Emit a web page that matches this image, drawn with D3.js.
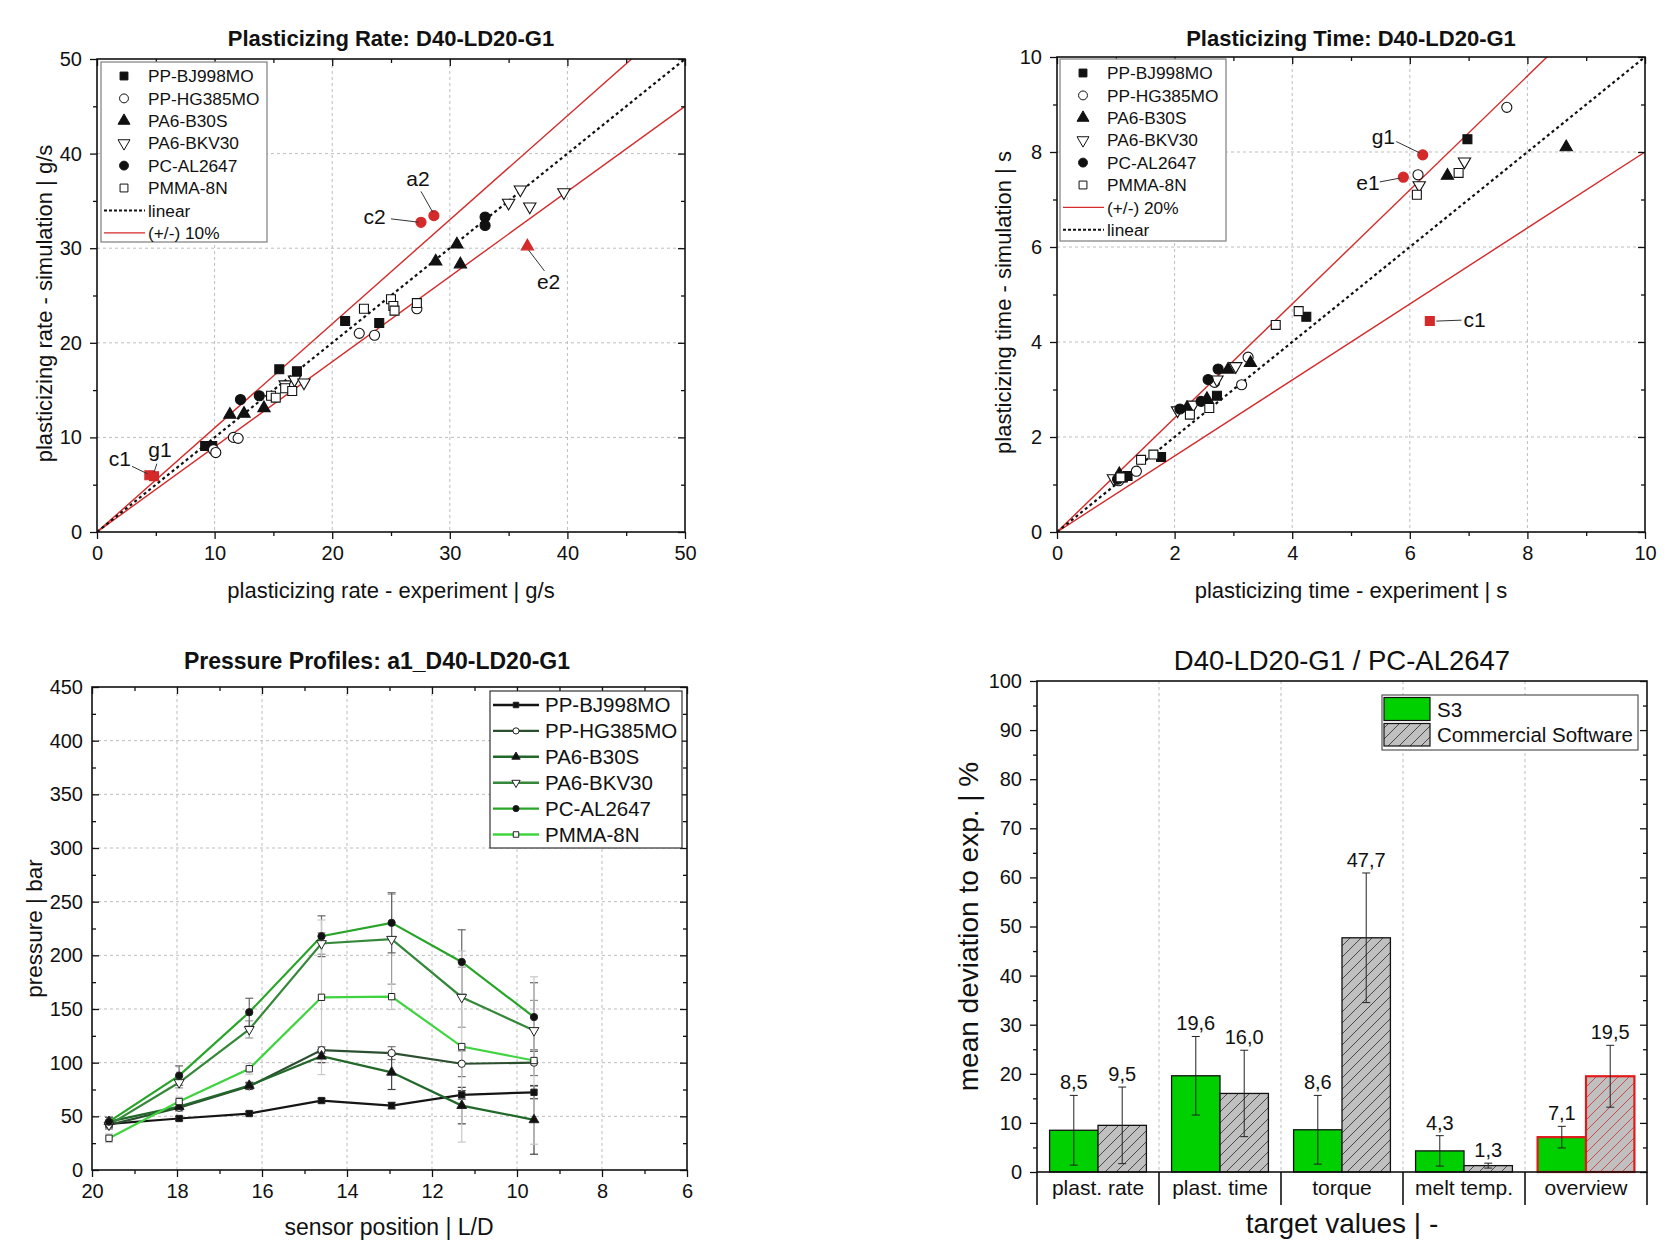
<!DOCTYPE html>
<html>
<head>
<meta charset="utf-8">
<script src="https://cdn.jsdelivr.net/npm/d3@7"></script>
<style>
  body { margin: 0; background: #fff; }
  svg text { font-family: 'Liberation Sans', Arial, sans-serif; fill: #111; }
  .tick text { font-size: 20px; }
  .grid line { stroke: #bdbdbd; stroke-width: 1; stroke-dasharray: 3,3; }
</style>
</head>
<body>
<svg id="fig" width="1679" height="1241"></svg>
<script>
// ---------- data ----------
const materials = ["PP-BJ998MO", "PP-HG385MO", "PA6-B30S", "PA6-BKV30", "PC-AL2647", "PMMA-8N"];

// plasticizing rate [experiment, simulation] in g/s
const rateBJ998 = [[9.2, 9.1], [9.8, 9.1], [15.5, 17.2], [17.0, 17.0], [21.1, 22.3], [24.0, 22.1]];
const rateHG385 = [[9.9, 8.7], [10.1, 8.4], [11.6, 10.0], [12.0, 9.9], [22.3, 21.0], [23.6, 20.8], [27.2, 23.6]];
const rateB30S = [[11.3, 12.4], [12.5, 12.5], [14.2, 13.1], [28.8, 28.6], [30.6, 30.4], [30.9, 28.3]];
const rateBKV30 = [[16.0, 15.6], [16.8, 16.1], [17.6, 15.8], [35.0, 34.8], [36.0, 36.2], [36.8, 34.4], [39.7, 35.9]];
const rateAL2647 = [[12.2, 14.0], [13.8, 14.4], [33.0, 33.3], [33.0, 32.4]];
const rate8N = [[14.8, 14.4], [15.2, 14.2], [16.0, 15.2], [16.6, 14.9], [22.7, 23.6], [25.0, 24.6], [25.2, 23.9], [25.3, 23.4], [27.2, 24.2]];
const rateOutCircle = [[28.65, 33.44], [27.55, 32.74]];
const rateOutTri = [[36.6, 30.2]];
const rateOutSquare = [[4.45, 6.0], [4.85, 5.9]];
const rateNotes = [
  { t: "a2", p: [27.3, 37.3], a: [27.55, 36.0], b: [28.55, 33.8] },
  { t: "c2", p: [23.6, 33.3], a: [25.0, 33.1], b: [27.35, 32.75] },
  { t: "e2", p: [38.4, 26.5], a: [36.7, 29.8], b: [38.05, 27.6] },
  { t: "c1", p: [1.95, 7.8], a: [2.98, 6.94], b: [4.28, 6.16] },
  { t: "g1", p: [5.35, 8.7], a: [5.09, 7.22], b: [4.86, 6.34] }
];

// plasticizing time [experiment, simulation] in s
const timeBJ998 = [[1.12, 1.15], [1.2, 1.18], [1.77, 1.58], [2.72, 2.87], [4.24, 4.53], [6.98, 8.27]];
const timeHG385 = [[1.05, 1.08], [1.35, 1.28], [2.68, 3.15], [3.14, 3.10], [3.25, 3.68], [6.14, 7.52], [7.65, 8.94]];
const timeB30S = [[1.06, 1.22], [2.21, 2.61], [2.55, 2.80], [2.91, 3.42], [3.29, 3.56], [6.64, 7.5], [8.66, 8.1]];
const timeBKV30 = [[0.96, 1.13], [2.05, 2.56], [2.32, 2.68], [2.72, 3.21], [3.04, 3.49], [6.16, 7.3], [6.93, 7.8]];
const timeAL2647 = [[1.03, 1.11], [2.09, 2.59], [2.45, 2.75], [2.57, 3.21], [2.74, 3.43]];
const time8N = [[1.08, 1.15], [1.43, 1.52], [1.64, 1.63], [2.26, 2.47], [2.59, 2.61], [3.72, 4.36], [4.11, 4.65], [6.12, 7.1], [6.83, 7.56]];
const timeOutCircle = [[6.22, 7.94], [5.89, 7.47]];
const timeOutSquare = [[6.34, 4.44]];
const timeNotes = [
  { t: "g1", p: [5.55, 8.32], a: [5.77, 8.22], b: [6.17, 7.98] },
  { t: "e1", p: [5.29, 7.35], a: [5.49, 7.37], b: [5.83, 7.45] },
  { t: "c1", p: [7.1, 4.47], a: [6.45, 4.44], b: [6.88, 4.46] }
];

// pressure profiles (bar) along sensor position (L/D)
const sensorPos = [19.6, 17.95, 16.3, 14.6, 12.95, 11.3, 9.6];
const presBJ998 = [43, 48, 52.6, 64.7, 60, 70, 72.4];
const presHG385 = [42, 58, 78, 111.7, 108.9, 99, 100];
const presB30S = [45, 59, 78.7, 106, 91, 60, 46.7];
const presBKV30 = [42, 81.5, 131, 211, 215, 161, 130];
const presAL2647 = [45, 88, 147, 217.8, 230.3, 193.8, 142.5];
const pres8N = [29.6, 63.8, 94.3, 160.9, 161.5, 115, 102];
const errBJ998 = [3, 2, 2, 2, 3, 4, 6];
const errHG385 = [3, 3, 3, 3, 6, 12, 12];
const errB30S = [4, 3, 3, 6, 16, 17, 32];
const errBKV30 = [4, 5, 8, 10, 42, 28, 28];
const errAL2647 = [4, 9, 13, 19, 28, 30, 32];
const err8N = [4, 4, 5, 72, 12, 89, 78];

// mean deviation to experiment (%)
const targets = ["plast. rate", "plast. time", "torque", "melt temp.", "overview"];
const devS3 = [8.5, 19.6, 8.6, 4.3, 7.1];
const devS3Err = [7.1, 8.0, 7.0, 3.1, 2.2];
const devComm = [9.5, 16.0, 47.7, 1.3, 19.5];
const devCommErr = [7.8, 8.8, 13.2, 0.5, 6.3];

// ---------- drawing ----------
const svg = d3.select("#fig");
svg.append("rect").attr("width", 1679).attr("height", 1241).attr("fill", "#fff");
const defs = svg.append("defs");
const RED = "#d42a2a";

function symPath(kind, size) {
  if (kind === "sq") return d3.symbol(d3.symbolSquare, size)();
  if (kind === "ci") return d3.symbol(d3.symbolCircle, size)();
  return d3.symbol(d3.symbolTriangle, size)();
}
function drawSym(g, kind, cx, cy, size, fill, stroke, sw) {
  g.append("path")
    .attr("d", symPath(kind, size))
    .attr("transform", `translate(${cx},${cy})` + (kind === "td" ? " rotate(180)" : ""))
    .attr("fill", fill).attr("stroke", stroke).attr("stroke-width", sw);
}

function frameAxes(g, x, y, o) {
  const cleanup = s => s.select(".domain").remove();
  // bottom
  g.append("g").attr("transform", `translate(0,${o.bottom})`)
    .call(d3.axisBottom(x).tickValues(o.xMajor).tickSize(o.bIn ? -7 : 7).tickPadding(o.bIn ? 14 : 7).tickFormat(d3.format("d"))).call(cleanup);
  g.append("g").attr("transform", `translate(0,${o.bottom})`)
    .call(d3.axisBottom(x).tickValues(o.xMinor).tickSize(o.bIn ? -4 : 4).tickFormat("")).call(cleanup);
  // left
  g.append("g").attr("transform", `translate(${o.left},0)`)
    .call(d3.axisLeft(y).tickValues(o.yMajor).tickSize(o.lIn ? -7 : 7).tickPadding(o.lIn ? 9 : 8).tickFormat(d3.format("d"))).call(cleanup);
  g.append("g").attr("transform", `translate(${o.left},0)`)
    .call(d3.axisLeft(y).tickValues(o.yMinor).tickSize(o.lIn ? -4 : 4).tickFormat("")).call(cleanup);
  // mirrored top and right, inward
  [[o.xMajor, 7], [o.xMinor, 4]].forEach(([v, s]) => {
    g.append("g").attr("transform", `translate(0,${o.top})`)
      .call(d3.axisTop(x).tickValues(v).tickSize(-s).tickFormat("")).call(cleanup);
  });
  [[o.yMajor, 7], [o.yMinor, 4]].forEach(([v, s]) => {
    g.append("g").attr("transform", `translate(${o.right},0)`)
      .call(d3.axisRight(y).tickValues(v).tickSize(-s).tickFormat("")).call(cleanup);
  });
  g.selectAll(".tick line").attr("stroke", "#111").attr("stroke-width", 1.3);
  g.append("rect").attr("x", o.left).attr("y", o.top)
    .attr("width", o.right - o.left).attr("height", o.bottom - o.top)
    .attr("fill", "none").attr("stroke", "#111").attr("stroke-width", 1.6);
}

function gridLines(g, x, y, o, xs, ys) {
  const gg = g.append("g").attr("class", "grid");
  gg.selectAll(".gx").data(xs).join("line").attr("class", "gx")
    .attr("x1", d => x(d)).attr("x2", d => x(d)).attr("y1", o.top).attr("y2", o.bottom);
  gg.selectAll(".gy").data(ys).join("line").attr("class", "gy")
    .attr("y1", d => y(d)).attr("y2", d => y(d)).attr("x1", o.left).attr("x2", o.right);
}

function scatterPanel(o) {
  const g = svg.append("g");
  const x = d3.scaleLinear().domain(o.xDom).range([o.left, o.right]);
  const y = d3.scaleLinear().domain(o.yDom).range([o.bottom, o.top]);
  gridLines(g, x, y, o, o.xGrid, o.yGrid);

  defs.append("clipPath").attr("id", o.id + "clip").append("rect")
    .attr("x", o.left).attr("y", o.top).attr("width", o.right - o.left).attr("height", o.bottom - o.top);
  const lg = g.append("g").attr("clip-path", `url(#${o.id}clip)`);
  const xm = o.xDom[1];
  o.factors.forEach(f => {
    lg.append("line").attr("x1", x(0)).attr("y1", y(0)).attr("x2", x(xm)).attr("y2", y(f * xm))
      .attr("stroke", RED).attr("stroke-width", 1.4);
  });
  lg.append("line").attr("x1", x(0)).attr("y1", y(0)).attr("x2", x(xm)).attr("y2", y(xm))
    .attr("stroke", "#111").attr("stroke-width", 2.2).attr("stroke-dasharray", "3,3");

  const mg = g.append("g");
  o.series.forEach(s => {
    s.data.forEach(d => drawSym(mg, s.kind, x(d[0]), y(d[1]), s.size, s.fill, s.stroke, 1.1));
  });

  // annotations
  o.notes.forEach(n => {
    g.append("line").attr("x1", x(n.a[0])).attr("y1", y(n.a[1])).attr("x2", x(n.b[0])).attr("y2", y(n.b[1]))
      .attr("stroke", "#333").attr("stroke-width", 1);
    g.append("text").attr("x", x(n.p[0])).attr("y", y(n.p[1])).attr("dy", "0.35em")
      .attr("text-anchor", "middle").style("font-size", "21px").text(n.t);
  });

  frameAxes(g, x, y, o);

  // titles
  g.append("text").attr("x", (o.left + o.right) / 2).attr("y", 46).attr("text-anchor", "middle")
    .style("font-size", "22px").style("font-weight", "bold").text(o.title);
  g.append("text").attr("x", (o.left + o.right) / 2).attr("y", 598).attr("text-anchor", "middle")
    .style("font-size", "22px").text(o.xLabel);
  g.append("text").attr("transform", `translate(${o.yLabelX},${(o.top + o.bottom) / 2 + 8}) rotate(-90)`)
    .attr("text-anchor", "middle").style("font-size", "22px").text(o.yLabel);

  // legend
  const L = o.legend;
  const leg = g.append("g");
  leg.append("rect").attr("x", L.x).attr("y", L.y).attr("width", L.w).attr("height", L.h)
    .attr("fill", "#fff").attr("stroke", "#888").attr("stroke-width", 1.3);
  L.items.forEach((it, i) => {
    const cy = L.y + 14 + i * 22.4;
    if (it.line) {
      leg.append("line").attr("x1", L.x + 3).attr("x2", L.x + 44).attr("y1", cy).attr("y2", cy)
        .attr("stroke", it.line).attr("stroke-width", it.dash ? 2 : 1.3)
        .attr("stroke-dasharray", it.dash ? "3,2" : null);
    } else {
      drawSym(leg, it.kind, L.x + 23, cy, 62, it.fill, "#111", 1);
    }
    leg.append("text").attr("x", L.x + 47).attr("y", cy).attr("dy", "0.36em")
      .style("font-size", "17.3px").text(it.label);
  });
}

const kinds = ["sq", "ci", "tu", "td", "ci", "sq"];
const fills = ["#111", "#fff", "#111", "#fff", "#111", "#fff"];
function buildSeries(list, outs) {
  const s = list.map((d, i) => ({ data: d, kind: kinds[i], fill: fills[i], stroke: "#111", size: kinds[i] === "sq" ? 80 : (kinds[i] === "ci" ? 80 : 66) }));
  outs.forEach(o => s.push({ data: o.data, kind: o.kind, fill: RED, stroke: RED, size: o.kind === "tu" ? 66 : 80 }));
  return s;
}
const legendMarkers = materials.map((m, i) => ({ label: m, kind: kinds[i], fill: fills[i] }));

scatterPanel({
  id: "p1", left: 97, right: 685, top: 59, bottom: 532,
  xDom: [0, 50], yDom: [0, 50],
  xMajor: [0, 10, 20, 30, 40, 50], xMinor: [5, 15, 25, 35, 45],
  yMajor: [0, 10, 20, 30, 40, 50], yMinor: [5, 15, 25, 35, 45],
  xGrid: [10, 20, 30, 40], yGrid: [10, 20, 30, 40],
  factors: [1.1, 0.9],
  series: buildSeries([rateBJ998, rateHG385, rateB30S, rateBKV30, rateAL2647, rate8N],
    [{ data: rateOutCircle, kind: "ci" }, { data: rateOutTri, kind: "tu" }, { data: rateOutSquare, kind: "sq" }]),
  notes: rateNotes,
  title: "Plasticizing Rate: D40-LD20-G1",
  xLabel: "plasticizing rate - experiment | g/s",
  yLabel: "plasticizing rate - simulation | g/s", yLabelX: 52,
  legend: { x: 101, y: 62, w: 166, h: 180,
    items: legendMarkers.concat([{ label: "linear", line: "#111", dash: true }, { label: "(+/-) 10%", line: RED }]) }
});

scatterPanel({
  id: "p2", left: 1057, right: 1645, top: 57, bottom: 532,
  xDom: [0, 10], yDom: [0, 10],
  xMajor: [0, 2, 4, 6, 8, 10], xMinor: [1, 3, 5, 7, 9],
  yMajor: [0, 2, 4, 6, 8, 10], yMinor: [1, 3, 5, 7, 9],
  xGrid: [2, 4, 6, 8], yGrid: [2, 4, 6, 8],
  factors: [1.2, 0.8],
  series: buildSeries([timeBJ998, timeHG385, timeB30S, timeBKV30, timeAL2647, time8N],
    [{ data: timeOutCircle, kind: "ci" }, { data: timeOutSquare, kind: "sq" }]),
  notes: timeNotes,
  title: "Plasticizing Time: D40-LD20-G1",
  xLabel: "plasticizing time - experiment | s",
  yLabel: "plasticizing time - simulation | s", yLabelX: 1011,
  legend: { x: 1060, y: 59, w: 166, h: 182,
    items: legendMarkers.concat([{ label: "(+/-) 20%", line: RED }, { label: "linear", line: "#111", dash: true }]) }
});

// ---------- pressure profiles ----------
(function () {
  const o = { left: 92, right: 687, top: 687, bottom: 1170,
    xMajor: [20, 18, 16, 14, 12, 10, 8, 6], xMinor: [19, 17, 15, 13, 11, 9, 7],
    yMajor: d3.range(0, 451, 50), yMinor: d3.range(25, 450, 50), lIn: true };
  const g = svg.append("g");
  const x = d3.scaleLinear().domain([20, 6]).range([o.left, o.right]);
  const y = d3.scaleLinear().domain([0, 450]).range([o.bottom, o.top]);
  gridLines(g, x, y, o, [18, 16, 14, 12, 10, 8], d3.range(50, 450, 50));

  const series = [
    { name: materials[0], v: presBJ998, e: errBJ998, color: "#151515", kind: "sq", fill: "#111", ec: "#444" },
    { name: materials[1], v: presHG385, e: errHG385, color: "#2c4f30", kind: "ci", fill: "#fff", ec: "#777" },
    { name: materials[2], v: presB30S, e: errB30S, color: "#22682a", kind: "tu", fill: "#111", ec: "#444" },
    { name: materials[3], v: presBKV30, e: errBKV30, color: "#35883a", kind: "td", fill: "#fff", ec: "#999" },
    { name: materials[4], v: presAL2647, e: errAL2647, color: "#28a428", kind: "ci", fill: "#111", ec: "#666" },
    { name: materials[5], v: pres8N, e: err8N, color: "#3fd43f", kind: "sq", fill: "#fff", ec: "#c8c8c8" }
  ];
  const eg = g.append("g");
  series.forEach(s => {
    s.v.forEach((v, i) => {
      const cx = x(sensorPos[i]);
      const y1 = y(v - s.e[i]), y2 = y(v + s.e[i]);
      eg.append("line").attr("x1", cx).attr("x2", cx).attr("y1", y1).attr("y2", y2).attr("stroke", s.ec).attr("stroke-width", 1.2);
      [y1, y2].forEach(yy => eg.append("line").attr("x1", cx - 4).attr("x2", cx + 4).attr("y1", yy).attr("y2", yy)
        .attr("stroke", s.ec).attr("stroke-width", 1.2));
    });
  });
  const line = d3.line().x((d, i) => x(sensorPos[i])).y(d => y(d));
  series.forEach(s => {
    g.append("path").attr("d", line(s.v)).attr("fill", "none").attr("stroke", s.color).attr("stroke-width", 2.2);
  });
  series.forEach(s => {
    s.v.forEach((v, i) => drawSym(g, s.kind, x(sensorPos[i]), y(v), s.kind === "sq" ? 40 : 42, s.fill, "#222", 1));
  });

  frameAxes(g, x, y, o);

  g.append("text").attr("x", 377).attr("y", 669).attr("text-anchor", "middle")
    .style("font-size", "23px").style("font-weight", "bold").text("Pressure Profiles: a1_D40-LD20-G1");
  g.append("text").attr("x", 389).attr("y", 1235).attr("text-anchor", "middle")
    .style("font-size", "23px").text("sensor position | L/D");
  g.append("text").attr("transform", `translate(42,${(o.top + o.bottom) / 2}) rotate(-90)`)
    .attr("text-anchor", "middle").style("font-size", "22.5px").text("pressure | bar");

  const leg = g.append("g");
  leg.append("rect").attr("x", 490).attr("y", 691).attr("width", 192).attr("height", 157)
    .attr("fill", "#fff").attr("stroke", "#333").attr("stroke-width", 1.2);
  series.forEach((s, i) => {
    const cy = 705 + i * 25.9;
    leg.append("line").attr("x1", 493).attr("x2", 539).attr("y1", cy).attr("y2", cy).attr("stroke", s.color).attr("stroke-width", 2.4);
    drawSym(leg, s.kind, 516, cy, 30, s.fill, "#222", 1);
    leg.append("text").attr("x", 545).attr("y", cy).attr("dy", "0.36em").style("font-size", "20.5px").text(s.name);
  });
})();

// ---------- deviation bars ----------
(function () {
  const o = { left: 1037, right: 1647, top: 681, bottom: 1172 };
  const g = svg.append("g");
  const x = d3.scaleBand().domain(targets).range([o.left, o.right]).padding(0);
  const inner = d3.scaleBand().domain(["S3", "Commercial"]).range([0, x.bandwidth()]).paddingInner(0).paddingOuter(0.26);
  const y = d3.scaleLinear().domain([0, 100]).range([o.bottom, o.top]);

  const pat = (id, color) => {
    const p = defs.append("pattern").attr("id", id).attr("patternUnits", "userSpaceOnUse").attr("width", 11).attr("height", 11);
    p.append("rect").attr("width", 11).attr("height", 11).attr("fill", "#c0c0c0");
    p.append("path").attr("d", "M-2,2 L2,-2 M0,11 L11,0 M9,13 L13,9").attr("stroke", color).attr("stroke-width", 0.9);
  };
  pat("hatch", "#3a3a3a");
  pat("hatchRed", "#c94040");

  // vertical dashed separators
  const gg = g.append("g").attr("class", "grid");
  gg.selectAll("line").data(targets.slice(1)).join("line")
    .attr("x1", d => x(d)).attr("x2", d => x(d)).attr("y1", o.top).attr("y2", o.bottom);

  const rows = targets.map((t, i) => ({ t, i }));
  const bars = [
    { key: "S3", v: devS3, e: devS3Err, fill: () => "#00d000" },
    { key: "Commercial", v: devComm, e: devCommErr, fill: i => i === 4 ? "url(#hatchRed)" : "url(#hatch)" }
  ];
  bars.forEach(b => {
    g.selectAll(null).data(rows).join("rect")
      .attr("x", d => x(d.t) + inner(b.key)).attr("width", inner.bandwidth())
      .attr("y", d => y(b.v[d.i])).attr("height", d => y(0) - y(b.v[d.i]))
      .attr("fill", d => b.fill(d.i))
      .attr("stroke", d => d.i === 4 ? "#e01b1b" : "#111").attr("stroke-width", d => d.i === 4 ? 2.2 : 1.3);
  });
  bars.forEach(b => {
    rows.forEach(d => {
      const cx = x(d.t) + inner(b.key) + inner.bandwidth() / 2;
      const top = y(b.v[d.i] + b.e[d.i]), bot = y(Math.max(0, b.v[d.i] - b.e[d.i]));
      g.append("line").attr("x1", cx).attr("x2", cx).attr("y1", top).attr("y2", bot).attr("stroke", "#222").attr("stroke-width", 1);
      [top, bot].forEach(yy => g.append("line").attr("x1", cx - 4).attr("x2", cx + 4).attr("y1", yy).attr("y2", yy)
        .attr("stroke", "#222").attr("stroke-width", 1));
      g.append("text").attr("x", cx).attr("y", top - 6).attr("text-anchor", "middle")
        .style("font-size", "20px").text(d3.format(".1f")(b.v[d.i]).replace(".", ","));
    });
  });

  // axes
  const cleanup = s => s.select(".domain").remove();
  g.append("g").attr("transform", `translate(${o.left},0)`)
    .call(d3.axisLeft(y).tickValues(d3.range(0, 101, 10)).tickSize(7).tickPadding(8)).call(cleanup);
  g.append("g").attr("transform", `translate(${o.left},0)`)
    .call(d3.axisLeft(y).tickValues(d3.range(5, 100, 10)).tickSize(4).tickFormat("")).call(cleanup);
  g.append("g").attr("transform", `translate(${o.right},0)`)
    .call(d3.axisRight(y).tickValues(d3.range(0, 101, 10)).tickSize(-7).tickFormat("")).call(cleanup);
  g.append("g").attr("transform", `translate(${o.right},0)`)
    .call(d3.axisRight(y).tickValues(d3.range(5, 100, 10)).tickSize(-4).tickFormat("")).call(cleanup);
  g.selectAll(".tick line").attr("stroke", "#111").attr("stroke-width", 1.3);
  g.append("rect").attr("x", o.left).attr("y", o.top).attr("width", o.right - o.left).attr("height", o.bottom - o.top)
    .attr("fill", "none").attr("stroke", "#111").attr("stroke-width", 1.6);
  // category separators below the axis
  const edges = targets.map(t => x(t)).concat([o.right]);
  g.selectAll(null).data(edges).join("line")
    .attr("x1", d => d).attr("x2", d => d).attr("y1", o.bottom).attr("y2", o.bottom + 33)
    .attr("stroke", "#111").attr("stroke-width", 1.6);
  g.selectAll(null).data(targets).join("text")
    .attr("x", d => x(d) + x.bandwidth() / 2).attr("y", 1195).attr("text-anchor", "middle")
    .style("font-size", "21px").text(d => d);

  g.append("text").attr("x", 1342).attr("y", 670).attr("text-anchor", "middle")
    .style("font-size", "27.5px").text("D40-LD20-G1 / PC-AL2647");
  g.append("text").attr("x", 1342).attr("y", 1233).attr("text-anchor", "middle")
    .style("font-size", "28px").text("target values | -");
  g.append("text").attr("transform", `translate(978,${(o.top + o.bottom) / 2}) rotate(-90)`)
    .attr("text-anchor", "middle").style("font-size", "28px").text("mean deviation to exp. | %");

  const leg = g.append("g");
  leg.append("rect").attr("x", 1382).attr("y", 695).attr("width", 256).attr("height", 55)
    .attr("fill", "#fff").attr("stroke", "#555").attr("stroke-width", 1.2);
  leg.append("rect").attr("x", 1384).attr("y", 697.5).attr("width", 46).attr("height", 23).attr("fill", "#00d000").attr("stroke", "#111").attr("stroke-width", 1.2);
  leg.append("rect").attr("x", 1384).attr("y", 723.5).attr("width", 46).attr("height", 22.5).attr("fill", "url(#hatch)").attr("stroke", "#111").attr("stroke-width", 1.2);
  leg.append("text").attr("x", 1437).attr("y", 710).attr("dy", "0.36em").style("font-size", "20.5px").text("S3");
  leg.append("text").attr("x", 1437).attr("y", 735).attr("dy", "0.36em").style("font-size", "20.5px").text("Commercial Software");
})();
</script>
</body>
</html>
